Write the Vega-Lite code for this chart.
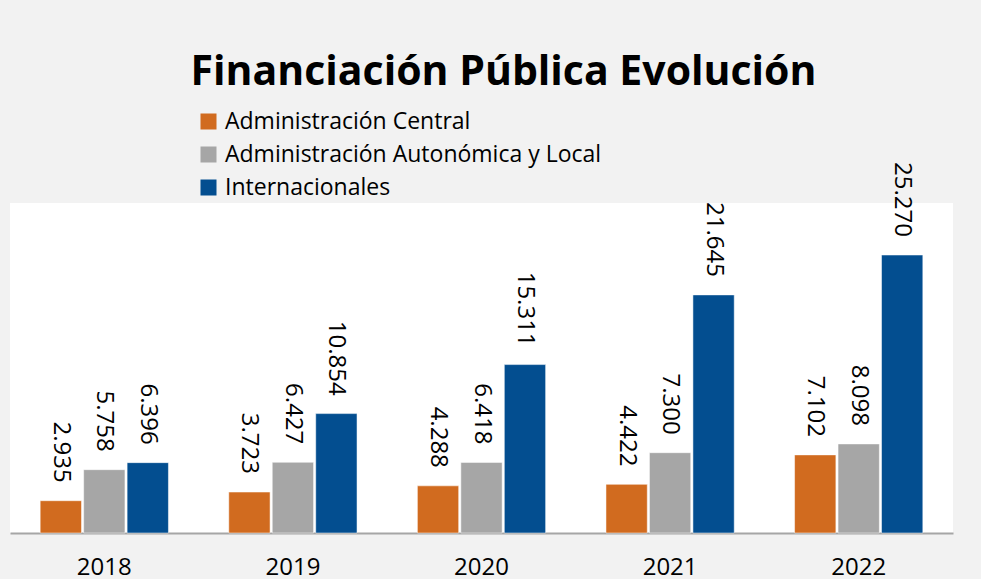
{
  "$schema": "https://vega.github.io/schema/vega-lite/v6.json",
  "autosize": {"type": "none"},
  "width": 943,
  "height": 330,
  "padding": {"left": 10, "top": 203, "right": 28, "bottom": 46},
  "background": "#f2f2f2",
  "config": {
    "view": {"fill": "white", "stroke": null},
    "font": "Open Sans",
    "locale": {"number": {"decimal": ",", "thousands": ".", "grouping": [3], "currency": ["", " €"]}}
  },
  "title": {
    "text": "Financiación Pública Evolución",
    "font": "Open Sans",
    "fontSize": 41,
    "fontWeight": "bold",
    "color": "black",
    "anchor": "middle",
    "dx": 22,
    "offset": 16
  },
  "data": {
    "values": [
      {"year": "2018", "serie": "Administración Central", "value": 2935},
      {"year": "2018", "serie": "Administración Autonómica y Local", "value": 5758},
      {"year": "2018", "serie": "Internacionales", "value": 6396},
      {"year": "2019", "serie": "Administración Central", "value": 3723},
      {"year": "2019", "serie": "Administración Autonómica y Local", "value": 6427},
      {"year": "2019", "serie": "Internacionales", "value": 10854},
      {"year": "2020", "serie": "Administración Central", "value": 4288},
      {"year": "2020", "serie": "Administración Autonómica y Local", "value": 6418},
      {"year": "2020", "serie": "Internacionales", "value": 15311},
      {"year": "2021", "serie": "Administración Central", "value": 4422},
      {"year": "2021", "serie": "Administración Autonómica y Local", "value": 7300},
      {"year": "2021", "serie": "Internacionales", "value": 21645},
      {"year": "2022", "serie": "Administración Central", "value": 7102},
      {"year": "2022", "serie": "Administración Autonómica y Local", "value": 8098},
      {"year": "2022", "serie": "Internacionales", "value": 25270}
    ]
  },
  "encoding": {
    "x": {
      "field": "year", "type": "nominal",
      "scale": {"paddingInner": 0.32, "paddingOuter": 0.16},
      "axis": {
        "title": null, "labelAngle": 0, "ticks": false,
        "domainColor": "#a6a6a6", "domainWidth": 2,
        "labelFontSize": 24, "labelColor": "black", "labelPadding": 22,
        "labelFont": "Open Sans"
      }
    },
    "xOffset": {
      "field": "serie", "type": "nominal",
      "sort": ["Administración Central", "Administración Autonómica y Local", "Internacionales"],
      "scale": {"paddingInner": 0.05, "paddingOuter": 0}
    },
    "y": {
      "field": "value", "type": "quantitative",
      "scale": {"domain": [0, 30000], "nice": false},
      "axis": null
    }
  },
  "layer": [
    {
      "mark": {"type": "bar", "stroke": "white", "strokeWidth": 0.5},
      "encoding": {
        "color": {
          "field": "serie", "type": "nominal",
          "sort": ["Administración Central", "Administración Autonómica y Local", "Internacionales"],
          "scale": {
            "domain": ["Administración Central", "Administración Autonómica y Local", "Internacionales"],
            "range": ["#d16b1f", "#a6a6a6", "#034e90"]
          },
          "legend": {
            "title": null,
            "orient": "none",
            "legendX": 187,
            "legendY": -93,
            "symbolType": "square",
            "symbolSize": 256,
            "symbolStrokeWidth": 0,
            "labelFontSize": 23,
            "labelFont": "Open Sans",
            "labelColor": "black",
            "labelOffset": 5,
            "rowPadding": 9,
            "labelLimit": 600
          }
        }
      }
    },
    {
      "mark": {"type": "text", "angle": 90, "align": "right", "baseline": "middle", "dx": -18, "fontSize": 24, "color": "black", "font": "Open Sans"},
      "encoding": {
        "text": {"field": "value", "type": "quantitative", "format": ","}
      }
    }
  ]
}
